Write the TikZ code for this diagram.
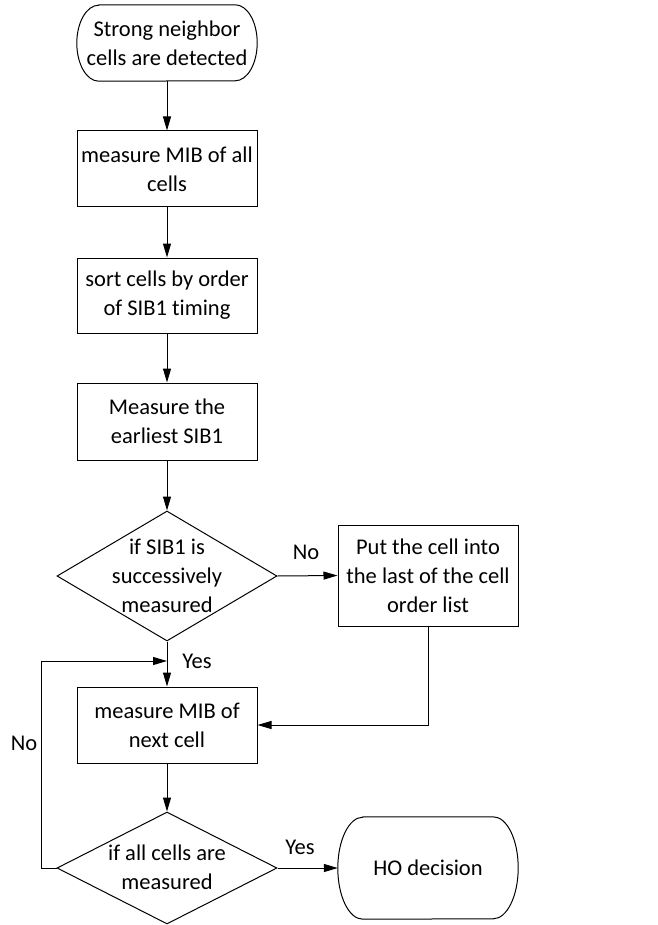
\documentclass[tikz,border=0pt]{standalone}
\usepackage{fontspec}
\setmainfont{Carlito}[RawFeature=-liga]
\usetikzlibrary{arrows.meta,shapes.geometric}
\newcommand\termshape[3]{%
  \draw[line width=1pt] ([xshift=#2]#1.north west) -- ([xshift=-#2]#1.north east)
    arc[start angle=90,end angle=-90,x radius=#2,y radius=#3]
    -- ([xshift=#2]#1.south west)
    arc[start angle=270,end angle=90,x radius=#2,y radius=#3] -- cycle;}
\begin{document}
\begin{tikzpicture}[x=1pt,y=1pt,
  every node/.style={font=\fontsize{22.5}{29}\selectfont},
  box/.style={draw, line width=1pt, minimum width=180pt, align=center, inner sep=0pt},
  term/.style={align=center, inner sep=0pt, minimum width=180pt},
  dia/.style={draw, diamond, line width=1pt, inner sep=0pt, minimum width=220pt},
  txt/.style={align=center, inner sep=0pt},
  arr/.style={line width=1pt, -{Triangle[length=14pt,width=8pt]}},
  lab/.style={inner sep=0pt}]
\useasboundingbox (0,0) rectangle (657,-925);
% nodes
\node[term, minimum height=76pt] (start) at (167,-43) {Strong neighbor\\cells are detected};
\termshape{start}{22pt}{38pt}
\node[box, minimum height=76pt] (b1) at (167,-169) {measure MIB of all\\cells};
\node[box, minimum height=75pt] (b2) at (167,-295.5) {sort cells by order\\of SIB1 timing};
\node[box, minimum height=77pt] (b3) at (167,-421.5) {Measure the\\earliest SIB1};
\node[dia, minimum height=130pt] (d1) at (167,-576) {};
\node[txt] (d1t) at (167,-576) {if SIB1 is\\successively\\measured};
\node[box, minimum height=101pt] (b4) at (428,-575.5) {Put the cell into\\the last of the cell\\order list};
\node[box, minimum height=76pt] (b5) at (167,-725) {measure MIB of\\next cell};
\node[dia, minimum height=112pt] (d2) at (167,-868) {};
\node[txt] (d2t) at (167,-867) {if all cells are\\measured};
\node[term, minimum height=102pt] (ho) at (428,-868) {HO decision};
\termshape{ho}{25pt}{51pt}
% labels
\node[lab] (lno1) at (306,-552) {No};
\node[lab] (lyes1) at (197,-661) {Yes};
\node[lab] (lno2) at (24,-743) {No};
\node[lab] (lyes2) at (300,-847) {Yes};
\coordinate (m) at (167,-661);
% connectors
\draw[arr] (start) -- (b1);
\draw[arr] (b1) -- (b2);
\draw[arr] (b2) -- (b3);
\draw[arr] (b3) -- (d1.north);
\draw[arr] (d1.east) -- (b4.west);
\draw[arr] (d1.south) -- (b5.north);
\draw[arr] (b4.south) |- (b5.east);
\draw[arr] (b5) -- (d2.north);
\draw[arr] (d2.west) -- ++(-15,0) |- (m);
\draw[arr] (d2.east) -- (ho.west);
\end{tikzpicture}
\end{document}
